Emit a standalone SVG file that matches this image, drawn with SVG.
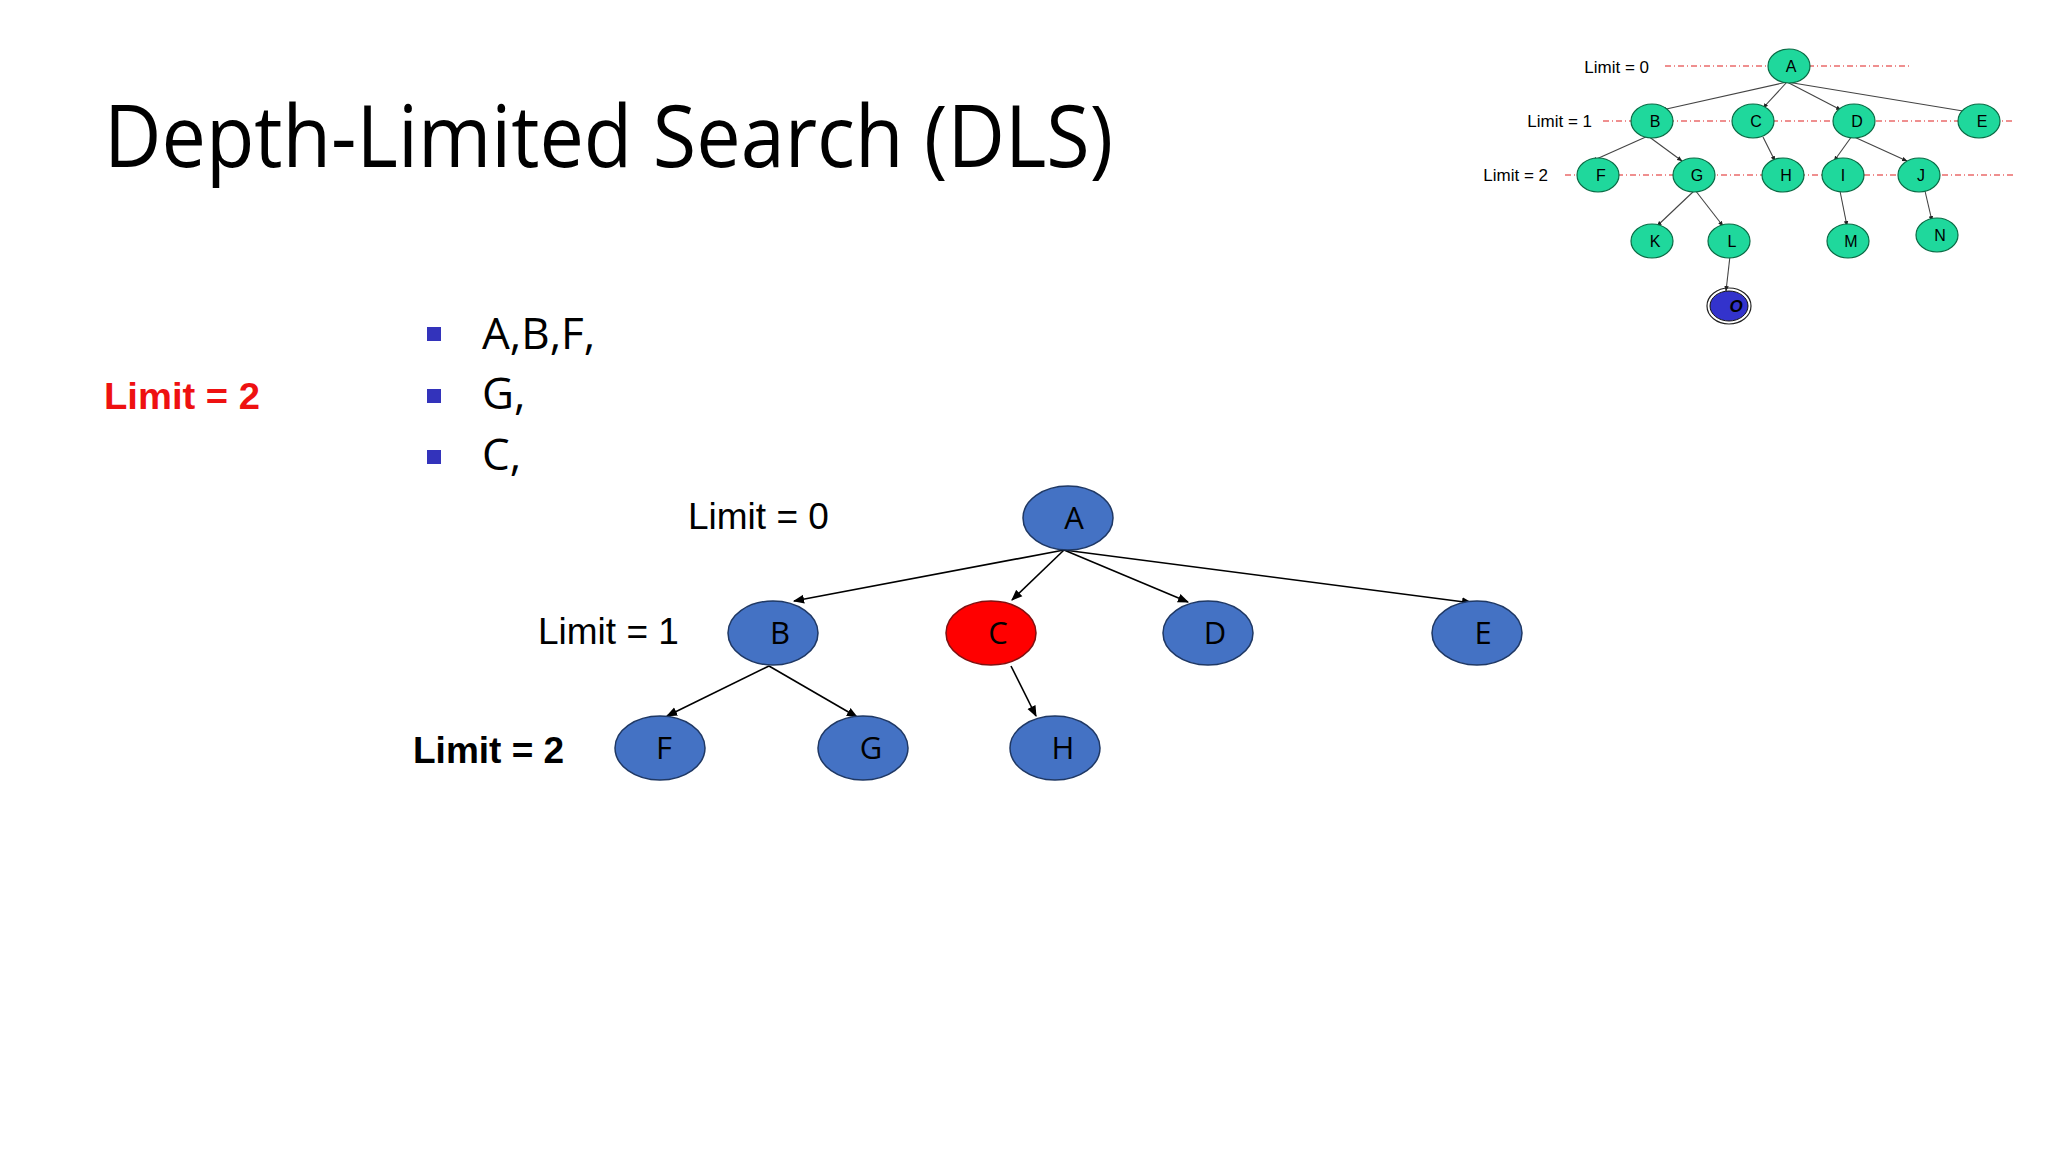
<svg xmlns="http://www.w3.org/2000/svg" width="2048" height="1152" viewBox="0 0 2048 1152">
<defs>
<marker id="ah" viewBox="0 0 10 10" refX="9" refY="5" markerWidth="7" markerHeight="7" orient="auto"><path d="M0,1 L10,5 L0,9 z" fill="#000"/></marker>
<marker id="sah" viewBox="0 0 10 10" refX="9" refY="5" markerWidth="5" markerHeight="5" orient="auto"><path d="M0,1 L10,5 L0,9 z" fill="#222"/></marker>
</defs>
<style>
.n ellipse{fill:#4472C4;stroke:#1F3864;stroke-width:1.5}
.n text{font-family:"Open Sans","Liberation Sans",sans-serif;font-size:31px;text-anchor:middle;fill:#000}
.s ellipse{fill:#1FD89C;stroke:#0B6B45;stroke-width:1.2}
.s text{font-family:"Liberation Sans",sans-serif;font-size:16px;text-anchor:middle;fill:#000}
.e line{stroke:#000;stroke-width:1.6;marker-end:url(#ah)}
.se line{stroke:#444;stroke-width:1.1;marker-end:url(#sah)}
.dl{stroke:#E02020;stroke-width:1.2;stroke-dasharray:6 3 1 3}
.lb{font-family:"Liberation Sans",sans-serif;font-size:37px;fill:#000}
.slb{font-family:"Liberation Sans",sans-serif;font-size:17px;fill:#000;text-anchor:end}
.bt{font-family:"Open Sans","Liberation Sans",sans-serif;font-size:44px;fill:#000}
</style>
<rect width="2048" height="1152" fill="#fff"/>
<text x="104" y="167" font-family="Open Sans, Liberation Sans, sans-serif" font-size="86" textLength="1009" lengthAdjust="spacingAndGlyphs">Depth-Limited Search (DLS)</text>
<text x="104" y="409" font-family="Liberation Sans, sans-serif" font-size="36" font-weight="bold" fill="#EE1111" textLength="156" lengthAdjust="spacingAndGlyphs">Limit = 2</text>
<g fill="#3333BB"><rect x="427" y="327" width="14" height="14"/><rect x="427" y="389" width="14" height="14"/><rect x="427" y="450" width="14" height="14"/></g>
<text class="bt" x="482" y="349">A,B,F,</text>
<text class="bt" x="482" y="409">G,</text>
<text class="bt" x="482" y="470">C,</text>
<text class="lb" x="688" y="529">Limit = 0</text>
<text class="lb" x="538" y="644">Limit = 1</text>
<text class="lb" x="413" y="763" font-weight="bold" font-size="36">Limit = 2</text>
<g id="connectors" class="e">
<line x1="1064" y1="550" x2="794" y2="601"/>
<line x1="1064" y1="550" x2="1012" y2="600"/>
<line x1="1064" y1="550" x2="1188" y2="602"/>
<line x1="1064" y1="550" x2="1472" y2="603"/>
<line x1="769" y1="666" x2="667" y2="716"/>
<line x1="769" y1="666" x2="857" y2="717"/>
<line x1="1011" y1="666" x2="1036" y2="716"/>
</g>
<g id="A" class="n"><ellipse cx="1068" cy="518" rx="45" ry="32"/><text x="1074" y="529">A</text></g>
<g id="B" class="n"><ellipse cx="773" cy="633" rx="45" ry="32"/><text x="780" y="644">B</text></g>
<g id="C"><ellipse cx="991" cy="633" rx="45" ry="32" fill="#FF0000" stroke="#7F1010" stroke-width="1.5"/><text x="998" y="644" font-family="Open Sans, Liberation Sans, sans-serif" font-size="31" text-anchor="middle">C</text></g>
<g id="D" class="n"><ellipse cx="1208" cy="633" rx="45" ry="32"/><text x="1215" y="644">D</text></g>
<g id="E" class="n"><ellipse cx="1477" cy="633" rx="45" ry="32"/><text x="1483" y="644">E</text></g>
<g id="F" class="n"><ellipse cx="660" cy="748" rx="45" ry="32"/><text x="664" y="759">F</text></g>
<g id="G" class="n"><ellipse cx="863" cy="748" rx="45" ry="32"/><text x="871" y="759">G</text></g>
<g id="H" class="n"><ellipse cx="1055" cy="748" rx="45" ry="32"/><text x="1063" y="759">H</text></g>
<g id="mini">
<line class="dl" x1="1665" y1="66" x2="1910" y2="66"/>
<line class="dl" x1="1603" y1="121" x2="2015" y2="121"/>
<line class="dl" x1="1565" y1="175" x2="2015" y2="175"/>
<text class="slb" x="1649" y="73">Limit = 0</text>
<text class="slb" x="1592" y="127">Limit = 1</text>
<text class="slb" x="1548" y="181">Limit = 2</text>
<g class="se">
<line x1="1787" y1="82" x2="1662" y2="110"/>
<line x1="1787" y1="82" x2="1763" y2="108"/>
<line x1="1787" y1="82" x2="1841" y2="110"/>
<line x1="1787" y1="82" x2="1969" y2="112"/>
<line x1="1648" y1="136" x2="1592" y2="161"/>
<line x1="1648" y1="136" x2="1682" y2="161"/>
<line x1="1763" y1="137" x2="1775" y2="161"/>
<line x1="1852" y1="136" x2="1834" y2="161"/>
<line x1="1852" y1="136" x2="1907" y2="161"/>
<line x1="1695" y1="190" x2="1657" y2="226"/>
<line x1="1695" y1="190" x2="1723" y2="226"/>
<line x1="1840" y1="191" x2="1847" y2="226"/>
<line x1="1925" y1="191" x2="1932" y2="221"/>
<line x1="1730" y1="256" x2="1726" y2="291"/>
</g>
<g id="sA" class="s"><ellipse cx="1789" cy="66" rx="21" ry="17"/><text x="1791" y="72">A</text></g>
<g id="sB" class="s"><ellipse cx="1652" cy="121" rx="21" ry="17"/><text x="1655" y="127">B</text></g>
<g id="sC" class="s"><ellipse cx="1753" cy="121" rx="21" ry="17"/><text x="1756" y="127">C</text></g>
<g id="sD" class="s"><ellipse cx="1854" cy="121" rx="21" ry="17"/><text x="1857" y="127">D</text></g>
<g id="sE" class="s"><ellipse cx="1979" cy="121" rx="21" ry="17"/><text x="1982" y="127">E</text></g>
<g id="sF" class="s"><ellipse cx="1598" cy="175" rx="21" ry="17"/><text x="1601" y="181">F</text></g>
<g id="sG" class="s"><ellipse cx="1694" cy="175" rx="21" ry="17"/><text x="1697" y="181">G</text></g>
<g id="sH" class="s"><ellipse cx="1783" cy="175" rx="21" ry="17"/><text x="1786" y="181">H</text></g>
<g id="sI" class="s"><ellipse cx="1843" cy="175" rx="21" ry="17"/><text x="1843" y="181">I</text></g>
<g id="sJ" class="s"><ellipse cx="1919" cy="175" rx="21" ry="17"/><text x="1921" y="181">J</text></g>
<g id="sK" class="s"><ellipse cx="1652" cy="241" rx="21" ry="17"/><text x="1655" y="247">K</text></g>
<g id="sL" class="s"><ellipse cx="1729" cy="241" rx="21" ry="17"/><text x="1732" y="247">L</text></g>
<g id="sM" class="s"><ellipse cx="1848" cy="241" rx="21" ry="17"/><text x="1851" y="247">M</text></g>
<g id="sN" class="s"><ellipse cx="1937" cy="235" rx="21" ry="17"/><text x="1940" y="241">N</text></g>
<g id="sO"><ellipse cx="1729" cy="306" rx="22" ry="18" fill="none" stroke="#222" stroke-width="1.2"/><ellipse cx="1729" cy="306" rx="19" ry="15" fill="#3333CC" stroke="#111" stroke-width="1"/><text x="1736" y="312" font-family="Liberation Sans, sans-serif" font-size="17" font-weight="bold" font-style="italic" text-anchor="middle" fill="#000">O</text></g>
</g>
</svg>
